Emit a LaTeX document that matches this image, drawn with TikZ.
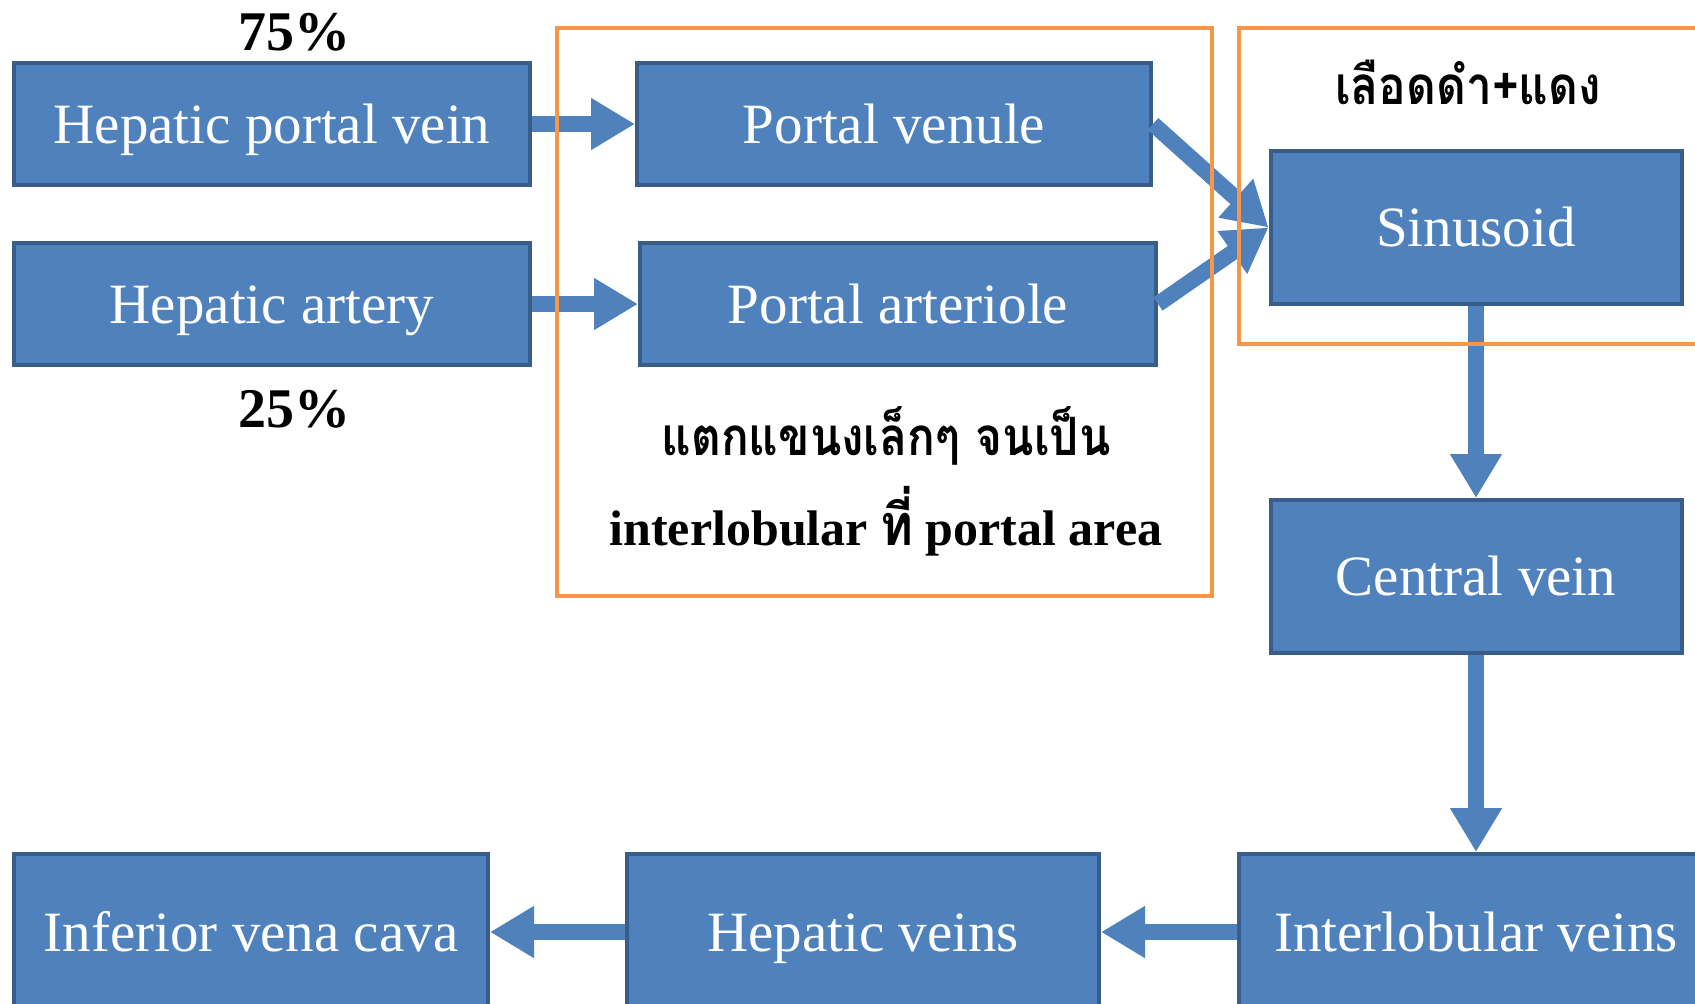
\documentclass[tikz,border=0pt]{standalone}
\usepackage{fontspec}
\setmainfont{Liberation Serif}
\newfontfamily\thaifont[Script=Thai]{Loma}
\usetikzlibrary{arrows.meta}
\definecolor{boxblue}{HTML}{4F81BD}
\definecolor{boxline}{HTML}{385D8A}
\definecolor{frameorange}{HTML}{F79646}
\newcommand{\tall}[1]{\scalebox{1}[1.15]{#1}}

\begin{document}
\begin{tikzpicture}[x=0.5pt,y=-0.5pt,
    vessel/.style={draw=boxline,line width=2pt,fill=boxblue,text=white,
      minimum height=61pt,text height=20pt,text depth=1pt,
      font=\fontsize{28.5}{34}\selectfont},
    flow/.style={draw=boxblue,line width=8pt,-{Triangle[width=24.5pt,length=22pt]}},
    area/.style={draw=frameorange,line width=2pt},
    note/.style={font=\fontsize{28}{34}\selectfont\bfseries},
    thainote/.style={font=\thaifont\bfseries\fontsize{23}{28}\selectfont}]
    \clip (0,0) rectangle (1695,1003);

    \node[vessel,minimum width=258pt] (hpv) at (272,124) {Hepatic portal vein};
    \node[vessel,minimum width=258pt] (ha) at (272,304) {Hepatic artery};
    \node[vessel,minimum width=257pt] (pv) at (894,124) {Portal venule};
    \node[vessel,minimum width=258pt] (pa) at (898,304) {Portal arteriole};
    \node[vessel,minimum width=205.5pt,minimum height=76.5pt] (sin) at (1476,227.5) {Sinusoid};
    \node[vessel,minimum width=205.5pt,minimum height=76.5pt] (cv) at (1476,576.5) {Central vein};
    \node[vessel,minimum width=237pt,minimum height=78pt] (ilv) at (1476,932) {Interlobular veins};
    \node[vessel,minimum width=236pt,minimum height=78pt] (hv) at (863,932) {Hepatic veins};
    \node[vessel,minimum width=237pt,minimum height=78pt] (ivc) at (251,932) {Inferior vena cava};

    \node[note] (pct75) at (294,32) {75\%};
    \node[note] (pct25) at (294,409) {25\%};
    \node[thainote] (branch) at (886,436) {\tall{แตกแขนงเล็กๆ จนเป็น}};
    \node[note,font=\fontsize{25}{30}\selectfont\bfseries] (site) at (886,521) {interlobular {\thaifont\tall{ที่}} portal area};
    \node[thainote] (mix) at (1468,82) {\tall{เลือดดำ+แดง}};

    % blood flow
    \draw[flow] (hpv) -- (pv);
    \draw[flow] (ha) -- (pa);
    \draw[flow] (pv.east) -- (sin.west);
    \draw[flow] (pa.east) -- (sin.west);
    \draw[flow] (sin) -- (cv);
    \draw[flow] (cv) -- (ilv);
    \draw[flow] (ilv) -- (hv);
    \draw[flow] (hv) -- (ivc);

    \draw[area] (557,28) rectangle (1212,596);
    \draw[area] (1239,28) rectangle (1713,344);
\end{tikzpicture}
\end{document}
